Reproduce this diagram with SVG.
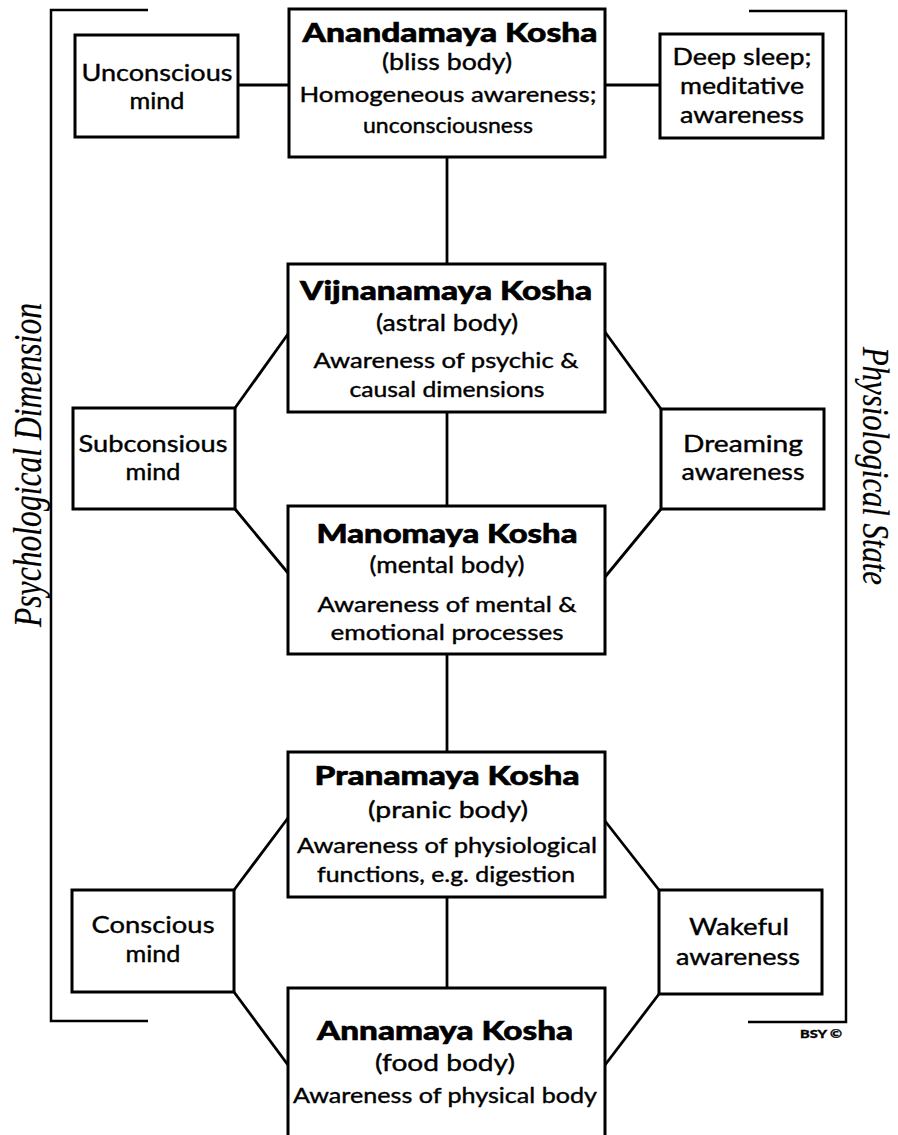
<svg xmlns="http://www.w3.org/2000/svg" width="898" height="1135" viewBox="0 0 898 1135">
<style>
  .box { fill: #ffffff; stroke: #000000; stroke-width: 3; }
  .line { fill: none; stroke: #000000; stroke-width: 2.8; }
  .bracket { fill: none; stroke: #000000; stroke-width: 2.5; }
  text { font-family: Lato, "Liberation Sans", sans-serif; fill: #000000; text-anchor: middle; stroke: #000000; stroke-width: 0.4; }
  .title { font-size: 27px; font-weight: 900; stroke-width: 0.6; }
  .sub { font-size: 23px; }
  .desc { font-size: 22px; }
  .side { font-size: 24px; }
  .axis { font-family: "Liberation Serif", "DejaVu Serif", serif; font-style: italic; font-size: 40px; stroke-width: 0.2; }
  .axis2 { font-family: "Liberation Serif", "DejaVu Serif", serif; font-style: italic; font-size: 37px; stroke-width: 0.2; }
  .mark { font-size: 12px; font-weight: 900; text-anchor: start; stroke-width: 0.3; }
</style>
<rect width="898" height="1135" fill="#ffffff"/>

<g id="brackets">
  <polyline class="bracket" points="148,10 51,10 51,1021 148,1021"/>
  <polyline class="bracket" points="749,11 846,11 846,1022 748,1022"/>
</g>

<g id="connectors">
  <line class="line" x1="238" y1="85" x2="289" y2="85"/>
  <line class="line" x1="605" y1="85" x2="660" y2="85"/>
  <line class="line" x1="447" y1="157" x2="447" y2="264"/>
  <line class="line" x1="447" y1="412" x2="447" y2="506"/>
  <line class="line" x1="447" y1="654" x2="447" y2="752"/>
  <line class="line" x1="447" y1="897" x2="447" y2="988"/>
  <line class="line" x1="235" y1="408" x2="288" y2="334"/>
  <line class="line" x1="235" y1="509" x2="288" y2="573"/>
  <line class="line" x1="605" y1="332" x2="661" y2="409"/>
  <line class="line" x1="605" y1="577" x2="661" y2="509"/>
  <line class="line" x1="234" y1="890" x2="288" y2="818"/>
  <line class="line" x1="234" y1="992" x2="288" y2="1065"/>
  <line class="line" x1="605" y1="821" x2="659" y2="890"/>
  <line class="line" x1="605" y1="1065" x2="659" y2="994"/>
</g>

<g id="anandamaya">
  <rect class="box" x="289" y="9" width="316" height="148"/>
  <text class="title" x="450" y="42" textLength="295" lengthAdjust="spacingAndGlyphs">Anandamaya Kosha</text>
  <text class="sub" x="447" y="70" textLength="130" lengthAdjust="spacingAndGlyphs">(bliss body)</text>
  <text class="desc" x="448" y="102" textLength="297" lengthAdjust="spacingAndGlyphs">Homogeneous awareness;</text>
  <text class="desc" x="448" y="133" textLength="170" lengthAdjust="spacingAndGlyphs">unconsciousness</text>
</g>

<g id="vijnanamaya">
  <rect class="box" x="288" y="264" width="317" height="148"/>
  <text class="title" x="446" y="300" textLength="292" lengthAdjust="spacingAndGlyphs">Vijnanamaya Kosha</text>
  <text class="sub" x="447" y="331" textLength="142" lengthAdjust="spacingAndGlyphs">(astral body)</text>
  <text class="desc" x="446" y="368" textLength="265" lengthAdjust="spacingAndGlyphs">Awareness of psychic &amp;</text>
  <text class="desc" x="447" y="397" textLength="195" lengthAdjust="spacingAndGlyphs">causal dimensions</text>
</g>

<g id="manomaya">
  <rect class="box" x="288" y="506" width="317" height="148"/>
  <text class="title" x="447" y="543" textLength="261" lengthAdjust="spacingAndGlyphs">Manomaya Kosha</text>
  <text class="sub" x="447" y="573" textLength="155" lengthAdjust="spacingAndGlyphs">(mental body)</text>
  <text class="desc" x="447" y="612" textLength="259" lengthAdjust="spacingAndGlyphs">Awareness of mental &amp;</text>
  <text class="desc" x="447" y="640" textLength="233" lengthAdjust="spacingAndGlyphs">emotional processes</text>
</g>

<g id="pranamaya">
  <rect class="box" x="288" y="752" width="317" height="145"/>
  <text class="title" x="447" y="785" textLength="265" lengthAdjust="spacingAndGlyphs">Pranamaya Kosha</text>
  <text class="sub" x="448" y="818" textLength="160" lengthAdjust="spacingAndGlyphs">(pranic body)</text>
  <text class="desc" x="447" y="853" textLength="300" lengthAdjust="spacingAndGlyphs">Awareness of physiological</text>
  <text class="desc" x="446" y="882" textLength="258" lengthAdjust="spacingAndGlyphs">functions, e.g. digestion</text>
</g>

<g id="annamaya">
  <rect class="box" x="288" y="988" width="317" height="170"/>
  <text class="title" x="445" y="1040" textLength="256" lengthAdjust="spacingAndGlyphs">Annamaya Kosha</text>
  <text class="sub" x="445" y="1071" textLength="140" lengthAdjust="spacingAndGlyphs">(food body)</text>
  <text class="desc" x="445" y="1103" textLength="304" lengthAdjust="spacingAndGlyphs">Awareness of physical body</text>
</g>

<g id="unconscious-mind">
  <rect class="box" x="75" y="35" width="163" height="102"/>
  <text class="side" x="157" y="81" textLength="151" lengthAdjust="spacingAndGlyphs">Unconscious</text>
  <text class="side" x="157" y="109" textLength="55" lengthAdjust="spacingAndGlyphs">mind</text>
</g>

<g id="deep-sleep">
  <rect class="box" x="660" y="34" width="163" height="104"/>
  <text class="side" x="742" y="65" textLength="139" lengthAdjust="spacingAndGlyphs">Deep sleep;</text>
  <text class="side" x="742" y="94" textLength="124" lengthAdjust="spacingAndGlyphs">meditative</text>
  <text class="side" x="742" y="123" textLength="124" lengthAdjust="spacingAndGlyphs">awareness</text>
</g>

<g id="subconscious-mind">
  <rect class="box" x="73" y="408" width="162" height="101"/>
  <text class="side" x="153" y="452" textLength="149" lengthAdjust="spacingAndGlyphs">Subconsious</text>
  <text class="side" x="153" y="480" textLength="55" lengthAdjust="spacingAndGlyphs">mind</text>
</g>

<g id="dreaming-awareness">
  <rect class="box" x="661" y="409" width="163" height="100"/>
  <text class="side" x="743" y="452" textLength="120" lengthAdjust="spacingAndGlyphs">Dreaming</text>
  <text class="side" x="743" y="480" textLength="123" lengthAdjust="spacingAndGlyphs">awareness</text>
</g>

<g id="conscious-mind">
  <rect class="box" x="72" y="890" width="162" height="102"/>
  <text class="side" x="153" y="933" textLength="123" lengthAdjust="spacingAndGlyphs">Conscious</text>
  <text class="side" x="153" y="962" textLength="55" lengthAdjust="spacingAndGlyphs">mind</text>
</g>

<g id="wakeful-awareness">
  <rect class="box" x="659" y="890" width="163" height="104"/>
  <text class="side" x="739" y="935" textLength="100" lengthAdjust="spacingAndGlyphs">Wakeful</text>
  <text class="side" x="738" y="965" textLength="124" lengthAdjust="spacingAndGlyphs">awareness</text>
</g>

<g id="labels">
  <text class="axis" transform="translate(41,465) rotate(-90)" textLength="324" lengthAdjust="spacingAndGlyphs">Psychological Dimension</text>
  <text class="axis2" transform="translate(863,466) rotate(90)" textLength="238" lengthAdjust="spacingAndGlyphs">Physiological State</text>
  <text class="mark" x="800" y="1038" textLength="42" lengthAdjust="spacingAndGlyphs">BSY ©</text>
</g>
</svg>
